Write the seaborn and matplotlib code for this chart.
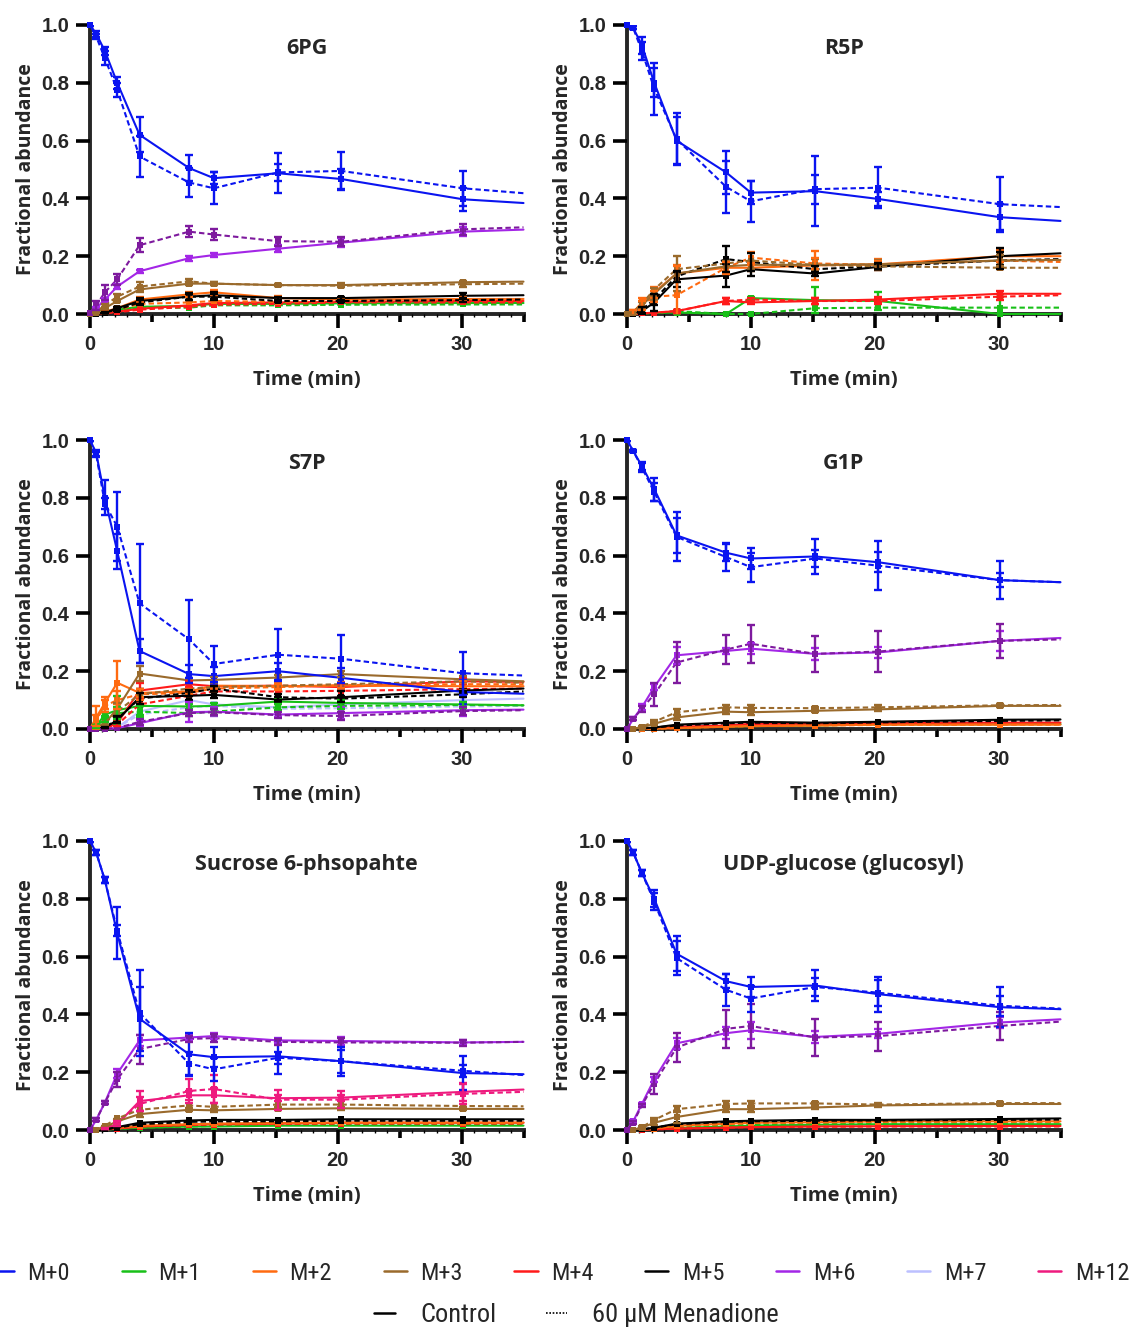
import numpy as np
import pandas as pd
import matplotlib
matplotlib.use("Agg")
import matplotlib.pyplot as plt
import seaborn as sns
from matplotlib.lines import Line2D
from matplotlib import font_manager as fm

# ---------------- data ----------------
TIME = [0, 0.5, 1.2, 2.2, 4, 8, 10, 15.2, 20.3, 30.1, 35]
N_ERR = 10  # error bars on the first 10 time points

ISOTOPOLOGUES = ["M+0", "M+1", "M+2", "M+3", "M+4", "M+5", "M+6", "M+7", "M+12"]
CONDITIONS = ["Control", "60 µM Menadione"]

PANEL_TITLES = ["6PG", "R5P", "S7P", "G1P", "Sucrose 6-phsopahte", "UDP-glucose (glucosyl)"]

# 6PG
PG6_CTRL = {
    "M+0": [1.0, 0.97, 0.91, 0.80, 0.62, 0.505, 0.47, 0.487, 0.467, 0.397, 0.384],
    "M+1": [0, 0.002, 0.008, 0.015, 0.025, 0.028, 0.035, 0.035, 0.037, 0.038, 0.038],
    "M+2": [0, 0, 0.008, 0.02, 0.05, 0.068, 0.075, 0.055, 0.05, 0.052, 0.052],
    "M+3": [0, 0.005, 0.02, 0.045, 0.085, 0.105, 0.105, 0.10, 0.10, 0.11, 0.112],
    "M+4": [0, 0, 0.003, 0.008, 0.018, 0.03, 0.038, 0.04, 0.042, 0.045, 0.045],
    "M+5": [0, 0, 0.005, 0.02, 0.045, 0.06, 0.065, 0.055, 0.055, 0.063, 0.065],
    "M+6": [0.005, 0.02, 0.05, 0.095, 0.148, 0.193, 0.204, 0.226, 0.247, 0.285, 0.292],
}
PG6_MEN = {
    "M+0": [1.0, 0.96, 0.885, 0.775, 0.545, 0.455, 0.435, 0.49, 0.495, 0.435, 0.418],
    "M+1": [0, 0.002, 0.006, 0.012, 0.02, 0.022, 0.03, 0.03, 0.032, 0.033, 0.033],
    "M+2": [0, 0, 0.005, 0.015, 0.035, 0.04, 0.045, 0.042, 0.045, 0.048, 0.048],
    "M+3": [0, 0.008, 0.03, 0.06, 0.095, 0.113, 0.105, 0.10, 0.098, 0.103, 0.105],
    "M+4": [0, 0, 0.003, 0.006, 0.015, 0.025, 0.032, 0.035, 0.04, 0.04, 0.04],
    "M+5": [0, 0, 0.005, 0.015, 0.04, 0.06, 0.06, 0.045, 0.045, 0.048, 0.05],
    "M+6": [0.005, 0.03, 0.075, 0.12, 0.238, 0.285, 0.275, 0.252, 0.25, 0.293, 0.30],
}
PG6_CTRL_SD = {
    "M+0": [0.005, 0.01, 0.015, 0.02, 0.06, 0.045, 0.02, 0.07, 0.035, 0.04],
    "M+6": [0, 0.005, 0.005, 0.01, 0.005, 0.008, 0.007, 0.012, 0.015, 0.015],
    "M+3": [0, 0, 0.003, 0.005, 0.01, 0.006, 0.005, 0.004, 0.006, 0.005],
    "M+5": [0, 0, 0.003, 0.005, 0.01, 0.012, 0.012, 0.005, 0.005, 0.01],
    "M+2": [0, 0, 0.003, 0.005, 0.01, 0.008, 0.008, 0.008, 0.006, 0.008],
}
PG6_MEN_SD = {
    "M+0": [0.005, 0.01, 0.025, 0.025, 0.07, 0.05, 0.055, 0.03, 0.065, 0.06],
    "M+6": [0, 0.015, 0.025, 0.02, 0.025, 0.02, 0.02, 0.015, 0.015, 0.02],
    "M+3": [0, 0.003, 0.005, 0.01, 0.015, 0.008, 0.005, 0.004, 0.006, 0.008],
    "M+5": [0, 0, 0.003, 0.005, 0.01, 0.01, 0.01, 0.005, 0.005, 0.008],
}

# R5P
R5P_CTRL = {
    "M+0": [1.0, 0.99, 0.93, 0.80, 0.60, 0.49, 0.42, 0.425, 0.398, 0.335, 0.322],
    "M+1": [0, 0, 0.002, 0.004, 0.005, 0.0, 0.055, 0.048, 0.045, 0.0, 0.0],
    "M+2": [0, 0.005, 0.04, 0.075, 0.14, 0.16, 0.16, 0.168, 0.172, 0.2, 0.2],
    "M+3": [0, 0.005, 0.03, 0.07, 0.14, 0.165, 0.17, 0.17, 0.172, 0.185, 0.187],
    "M+4": [0, 0, 0.002, 0.005, 0.01, 0.045, 0.04, 0.045, 0.05, 0.07, 0.07],
    "M+5": [0, 0, 0.01, 0.04, 0.12, 0.133, 0.155, 0.14, 0.163, 0.2, 0.21],
}
R5P_MEN = {
    "M+0": [1.0, 0.99, 0.91, 0.78, 0.605, 0.44, 0.39, 0.432, 0.437, 0.38, 0.37],
    "M+1": [0, 0, 0.002, 0.003, 0.01, 0.0, 0.0, 0.02, 0.022, 0.022, 0.022],
    "M+2": [0, 0.003, 0.03, 0.06, 0.065, 0.16, 0.195, 0.175, 0.17, 0.185, 0.18],
    "M+3": [0, 0.008, 0.035, 0.085, 0.155, 0.175, 0.185, 0.17, 0.165, 0.16, 0.16],
    "M+4": [0, 0, 0.002, 0.004, 0.01, 0.045, 0.05, 0.045, 0.045, 0.06, 0.065],
    "M+5": [0, 0, 0.015, 0.05, 0.13, 0.19, 0.18, 0.155, 0.165, 0.185, 0.19],
}
R5P_CTRL_SD = {
    "M+0": [0.005, 0.005, 0.03, 0.05, 0.08, 0.075, 0.04, 0.12, 0.025, 0.045],
    "M+1": [0, 0, 0, 0, 0.01, 0, 0.005, 0.045, 0.03, 0.06],
    "M+2": [0, 0.01, 0.015, 0.02, 0.03, 0.015, 0.01, 0.05, 0.02, 0.02],
    "M+3": [0, 0.005, 0.01, 0.02, 0.06, 0.02, 0.015, 0.02, 0.015, 0.02],
    "M+4": [0, 0, 0, 0, 0.005, 0.01, 0.005, 0.01, 0.01, 0.01],
    "M+5": [0, 0, 0.01, 0.03, 0.025, 0.04, 0.025, 0.01, 0.01, 0.03],
}
R5P_MEN_SD = {
    "M+0": [0.005, 0.005, 0.03, 0.09, 0.09, 0.09, 0.07, 0.05, 0.07, 0.095],
    "M+2": [0, 0.01, 0.015, 0.02, 0.1, 0.02, 0.02, 0.02, 0.015, 0.03],
    "M+4": [0, 0, 0, 0, 0.005, 0.01, 0.005, 0.01, 0.01, 0.01],
    "M+5": [0, 0, 0.01, 0.02, 0.02, 0.045, 0.03, 0.01, 0.01, 0.03],
}

# S7P
S7P_CTRL = {
    "M+0": [1.0, 0.955, 0.80, 0.615, 0.27, 0.19, 0.183, 0.20, 0.177, 0.128, 0.122],
    "M+1": [0, 0.01, 0.05, 0.065, 0.08, 0.078, 0.08, 0.095, 0.09, 0.085, 0.082],
    "M+2": [0, 0.04, 0.09, 0.16, 0.125, 0.13, 0.15, 0.148, 0.15, 0.148, 0.148],
    "M+3": [0, 0.005, 0.02, 0.07, 0.192, 0.168, 0.17, 0.178, 0.19, 0.172, 0.165],
    "M+4": [0, 0, 0.005, 0.02, 0.133, 0.155, 0.148, 0.15, 0.145, 0.165, 0.163],
    "M+5": [0, 0, 0.005, 0.03, 0.11, 0.115, 0.118, 0.102, 0.11, 0.133, 0.14],
    "M+6": [0, 0, 0, 0.003, 0.02, 0.058, 0.06, 0.05, 0.055, 0.065, 0.067],
    "M+7": [0, 0, 0, 0.005, 0.06, 0.10, 0.085, 0.075, 0.085, 0.10, 0.105],
}
S7P_MEN = {
    "M+0": [1.0, 0.95, 0.78, 0.70, 0.435, 0.31, 0.225, 0.257, 0.243, 0.193, 0.185],
    "M+1": [0, 0.01, 0.035, 0.055, 0.06, 0.055, 0.06, 0.075, 0.08, 0.083, 0.082],
    "M+2": [0, 0.03, 0.08, 0.10, 0.12, 0.125, 0.14, 0.145, 0.152, 0.155, 0.155],
    "M+3": [0, 0.005, 0.02, 0.06, 0.12, 0.14, 0.145, 0.15, 0.155, 0.165, 0.16],
    "M+4": [0, 0, 0.005, 0.015, 0.085, 0.115, 0.13, 0.13, 0.132, 0.138, 0.14],
    "M+5": [0, 0, 0.005, 0.035, 0.105, 0.125, 0.14, 0.11, 0.105, 0.12, 0.13],
    "M+6": [0, 0, 0, 0.003, 0.025, 0.055, 0.058, 0.048, 0.045, 0.062, 0.065],
    "M+7": [0, 0, 0, 0.005, 0.05, 0.075, 0.08, 0.07, 0.072, 0.078, 0.08],
}
S7P_CTRL_SD = {
    "M+0": [0.005, 0.01, 0.06, 0.06, 0.04, 0.03, 0.03, 0.03, 0.035, 0.04],
    "M+1": [0, 0.005, 0.01, 0.05, 0.03, 0.01, 0.01, 0.01, 0.01, 0.01],
    "M+2": [0, 0.04, 0.02, 0.075, 0.015, 0.01, 0.01, 0.01, 0.01, 0.01],
    "M+3": [0, 0, 0.005, 0.02, 0.025, 0.01, 0.01, 0.01, 0.01, 0.01],
    "M+4": [0, 0, 0.003, 0.01, 0.025, 0.01, 0.01, 0.01, 0.01, 0.01],
    "M+5": [0, 0, 0.003, 0.01, 0.03, 0.015, 0.01, 0.01, 0.02, 0.01],
    "M+6": [0, 0, 0, 0, 0.01, 0.035, 0.015, 0.01, 0.02, 0.02],
}
S7P_MEN_SD = {
    "M+0": [0.005, 0.01, 0.02, 0.12, 0.205, 0.135, 0.063, 0.09, 0.083, 0.075],
    "M+1": [0, 0.005, 0.01, 0.02, 0.02, 0.01, 0.01, 0.01, 0.01, 0.01],
    "M+2": [0, 0.02, 0.02, 0.03, 0.02, 0.01, 0.01, 0.01, 0.01, 0.01],
    "M+5": [0, 0, 0.003, 0.01, 0.02, 0.01, 0.01, 0.01, 0.01, 0.01],
    "M+6": [0, 0, 0, 0, 0.01, 0.01, 0.01, 0.01, 0.015, 0.015],
}

# G1P
G1P_CTRL = {
    "M+0": [1.0, 0.962, 0.91, 0.83, 0.67, 0.61, 0.59, 0.597, 0.577, 0.515, 0.508],
    "M+1": [0, 0, 0, 0.002, 0.005, 0.008, 0.01, 0.012, 0.016, 0.016, 0.017],
    "M+2": [0, 0, 0, 0.001, 0.003, 0.008, 0.01, 0.012, 0.015, 0.015, 0.015],
    "M+3": [0, 0, 0.005, 0.018, 0.04, 0.06, 0.058, 0.063, 0.068, 0.08, 0.08],
    "M+4": [0, 0, 0, 0.002, 0.008, 0.012, 0.018, 0.018, 0.02, 0.022, 0.022],
    "M+5": [0, 0, 0.002, 0.005, 0.015, 0.022, 0.025, 0.022, 0.025, 0.032, 0.033],
    "M+6": [0, 0.035, 0.075, 0.145, 0.255, 0.27, 0.278, 0.26, 0.265, 0.305, 0.315],
}
G1P_MEN = {
    "M+0": [1.0, 0.962, 0.905, 0.82, 0.665, 0.595, 0.56, 0.59, 0.565, 0.515, 0.508],
    "M+1": [0, 0, 0, 0.002, 0.005, 0.01, 0.012, 0.014, 0.018, 0.02, 0.02],
    "M+2": [0, 0, 0, 0.001, 0.003, 0.008, 0.01, 0.012, 0.014, 0.015, 0.015],
    "M+3": [0, 0, 0.008, 0.025, 0.058, 0.075, 0.073, 0.072, 0.075, 0.082, 0.083],
    "M+4": [0, 0, 0, 0.002, 0.007, 0.012, 0.016, 0.017, 0.02, 0.021, 0.021],
    "M+5": [0, 0, 0.002, 0.005, 0.012, 0.02, 0.022, 0.02, 0.023, 0.028, 0.03],
    "M+6": [0, 0.035, 0.07, 0.12, 0.23, 0.275, 0.295, 0.26, 0.268, 0.305, 0.31],
}
G1P_CTRL_SD = {
    "M+0": [0.003, 0.005, 0.015, 0.04, 0.06, 0.03, 0.035, 0.06, 0.035, 0.065],
    "M+6": [0, 0.005, 0.01, 0.01, 0.03, 0.01, 0.02, 0.02, 0.02, 0.035],
    "M+3": [0, 0, 0.003, 0.005, 0.01, 0.008, 0.01, 0.005, 0.005, 0.005],
}
G1P_MEN_SD = {
    "M+0": [0.003, 0.005, 0.015, 0.03, 0.085, 0.05, 0.05, 0.03, 0.085, 0.025],
    "M+6": [0, 0.005, 0.01, 0.04, 0.07, 0.05, 0.065, 0.062, 0.07, 0.058],
    "M+3": [0, 0, 0.003, 0.005, 0.01, 0.008, 0.01, 0.005, 0.008, 0.005],
}

# Sucrose 6-phosphate
SUC_CTRL = {
    "M+0": [1.0, 0.96, 0.865, 0.68, 0.385, 0.262, 0.252, 0.255, 0.238, 0.197, 0.193],
    "M+1": [0, 0, 0.002, 0.004, 0.008, 0.012, 0.012, 0.015, 0.015, 0.015, 0.015],
    "M+2": [0, 0, 0.003, 0.007, 0.015, 0.02, 0.022, 0.025, 0.026, 0.026, 0.026],
    "M+3": [0, 0, 0.01, 0.03, 0.055, 0.07, 0.068, 0.073, 0.075, 0.073, 0.073],
    "M+4": [0, 0, 0.002, 0.005, 0.012, 0.018, 0.02, 0.022, 0.025, 0.025, 0.025],
    "M+5": [0, 0, 0.002, 0.01, 0.025, 0.033, 0.035, 0.035, 0.037, 0.037, 0.037],
    "M+6": [0, 0.035, 0.095, 0.195, 0.31, 0.32, 0.325, 0.31, 0.308, 0.303, 0.305],
    "M+12": [0, 0, 0.005, 0.02, 0.10, 0.12, 0.12, 0.11, 0.112, 0.132, 0.14],
}
SUC_MEN = {
    "M+0": [1.0, 0.96, 0.865, 0.69, 0.405, 0.23, 0.21, 0.25, 0.238, 0.205, 0.19],
    "M+1": [0, 0, 0.002, 0.004, 0.008, 0.012, 0.014, 0.017, 0.018, 0.02, 0.02],
    "M+2": [0, 0, 0.003, 0.007, 0.015, 0.02, 0.022, 0.023, 0.024, 0.024, 0.024],
    "M+3": [0, 0, 0.015, 0.04, 0.07, 0.085, 0.08, 0.088, 0.088, 0.083, 0.082],
    "M+4": [0, 0, 0.002, 0.005, 0.012, 0.017, 0.019, 0.021, 0.022, 0.022, 0.022],
    "M+5": [0, 0, 0.002, 0.008, 0.02, 0.028, 0.03, 0.03, 0.032, 0.032, 0.032],
    "M+6": [0, 0.035, 0.095, 0.175, 0.28, 0.315, 0.318, 0.305, 0.303, 0.302, 0.305],
    "M+12": [0, 0, 0.005, 0.025, 0.09, 0.135, 0.142, 0.105, 0.105, 0.125, 0.132],
}
SUC_CTRL_SD = {
    "M+0": [0.003, 0.01, 0.01, 0.09, 0.11, 0.075, 0.035, 0.06, 0.04, 0.06],
    "M+6": [0, 0.005, 0.005, 0.015, 0.02, 0.01, 0.01, 0.01, 0.015, 0.01],
    "M+12": [0, 0, 0.002, 0.005, 0.035, 0.015, 0.025, 0.01, 0.01, 0.03],
    "M+3": [0, 0, 0.003, 0.008, 0.01, 0.005, 0.005, 0.005, 0.005, 0.005],
}
SUC_MEN_SD = {
    "M+0": [0.003, 0.01, 0.01, 0.02, 0.15, 0.04, 0.04, 0.02, 0.05, 0.02],
    "M+6": [0, 0.005, 0.005, 0.025, 0.05, 0.01, 0.015, 0.01, 0.015, 0.01],
    "M+12": [0, 0, 0.002, 0.005, 0.025, 0.04, 0.05, 0.035, 0.03, 0.035],
}

# UDP-glucose (glucosyl)
UDP_CTRL = {
    "M+0": [1.0, 0.96, 0.89, 0.80, 0.61, 0.515, 0.495, 0.50, 0.47, 0.425, 0.418],
    "M+1": [0, 0, 0.001, 0.003, 0.007, 0.012, 0.015, 0.018, 0.02, 0.02, 0.02],
    "M+2": [0, 0, 0.002, 0.005, 0.015, 0.022, 0.025, 0.027, 0.03, 0.03, 0.03],
    "M+3": [0, 0, 0.008, 0.025, 0.045, 0.072, 0.072, 0.078, 0.085, 0.09, 0.09],
    "M+4": [0, 0, 0.001, 0.002, 0.005, 0.008, 0.01, 0.012, 0.013, 0.014, 0.014],
    "M+5": [0, 0, 0.002, 0.008, 0.022, 0.03, 0.032, 0.035, 0.035, 0.038, 0.04],
    "M+6": [0, 0.03, 0.09, 0.175, 0.30, 0.335, 0.345, 0.322, 0.333, 0.372, 0.383],
}
UDP_MEN = {
    "M+0": [1.0, 0.96, 0.89, 0.79, 0.595, 0.485, 0.455, 0.495, 0.475, 0.43, 0.42],
    "M+1": [0, 0, 0.002, 0.004, 0.01, 0.015, 0.018, 0.022, 0.025, 0.025, 0.026],
    "M+2": [0, 0, 0.002, 0.005, 0.014, 0.02, 0.024, 0.026, 0.028, 0.028, 0.028],
    "M+3": [0, 0, 0.01, 0.035, 0.072, 0.09, 0.092, 0.092, 0.088, 0.093, 0.093],
    "M+4": [0, 0, 0.001, 0.002, 0.005, 0.008, 0.01, 0.011, 0.012, 0.012, 0.012],
    "M+5": [0, 0, 0.002, 0.008, 0.02, 0.028, 0.03, 0.032, 0.033, 0.035, 0.036],
    "M+6": [0, 0.025, 0.085, 0.16, 0.285, 0.35, 0.36, 0.32, 0.325, 0.36, 0.375],
}
UDP_CTRL_SD = {
    "M+0": [0.003, 0.01, 0.01, 0.03, 0.06, 0.025, 0.035, 0.055, 0.06, 0.07],
    "M+6": [0, 0.005, 0.005, 0.01, 0.02, 0.02, 0.03, 0.02, 0.015, 0.02],
    "M+3": [0, 0, 0.003, 0.008, 0.02, 0.01, 0.008, 0.005, 0.005, 0.005],
}
UDP_MEN_SD = {
    "M+0": [0.003, 0.01, 0.01, 0.03, 0.06, 0.055, 0.045, 0.03, 0.045, 0.035],
    "M+6": [0, 0.005, 0.005, 0.035, 0.05, 0.065, 0.075, 0.063, 0.05, 0.05],
    "M+3": [0, 0, 0.003, 0.008, 0.01, 0.01, 0.01, 0.005, 0.005, 0.005],
}

PANELS = [
    (PG6_CTRL, PG6_MEN, PG6_CTRL_SD, PG6_MEN_SD),
    (R5P_CTRL, R5P_MEN, R5P_CTRL_SD, R5P_MEN_SD),
    (S7P_CTRL, S7P_MEN, S7P_CTRL_SD, S7P_MEN_SD),
    (G1P_CTRL, G1P_MEN, G1P_CTRL_SD, G1P_MEN_SD),
    (SUC_CTRL, SUC_MEN, SUC_CTRL_SD, SUC_MEN_SD),
    (UDP_CTRL, UDP_MEN, UDP_CTRL_SD, UDP_MEN_SD),
]

# ---------------- style ----------------
ISO_COLORS = {
    "M+0": "#0A14F0", "M+1": "#18C018", "M+2": "#FF6A10", "M+3": "#9A6A2C",
    "M+4": "#FF1A1A", "M+5": "#000000", "M+6": "#A326E6", "M+7": "#BCC0FF",
    "M+12": "#EE1A7E",
}
MEN_OVERRIDE = {"M+6": "#7E1A9E"}
DRAW_ORDER = ["M+12", "M+7", "M+1", "M+4", "M+2", "M+5", "M+3", "M+6", "M+0"]

sns.set_theme(style="ticks")
available = {f.name for f in fm.fontManager.ttflist}
def pick(*names):
    for n in names:
        if n in available:
            return n
    return "DejaVu Sans"
TICK_FONT = pick("Liberation Sans", "Arial")
LABEL_FONT = pick("Open Sans", "Lato")
LEG_FONT = pick("Liberation Sans Narrow", "Roboto Condensed", "Liberation Sans")
plt.rcParams["font.family"] = [TICK_FONT, "DejaVu Sans"]

W, H = 1138, 1327
fig = plt.figure(figsize=(W / 100, H / 100), dpi=100)

col_left_px = [90, 627]
row_top_px = [25, 440, 841]
ax_w_px, ax_h_px = 433.5, 289

def color_of(iso, cond):
    if cond == CONDITIONS[1] and iso in MEN_OVERRIDE:
        return MEN_OVERRIDE[iso]
    return ISO_COLORS[iso]

for idx, (ctrl, men, ctrl_sd, men_sd) in enumerate(PANELS):
    r, c = divmod(idx, 2)
    left = col_left_px[c] / W
    bottom = 1 - (row_top_px[r] + ax_h_px) / H
    ax = fig.add_axes([left, bottom, ax_w_px / W, ax_h_px / H])

    rows = []
    for cond, d in ((CONDITIONS[0], ctrl), (CONDITIONS[1], men)):
        for iso, vals in d.items():
            for t, v in zip(TIME, vals):
                rows.append({"time": t, "value": v, "iso": iso, "cond": cond,
                             "key": f"{iso}|{cond}"})
    df = pd.DataFrame(rows)
    keys = []
    for iso in DRAW_ORDER:
        for cond in CONDITIONS:
            k = f"{iso}|{cond}"
            if k in set(df["key"]):
                keys.append(k)
    pal = {k: color_of(*k.split("|")) for k in keys}

    sns.lineplot(data=df, x="time", y="value", hue="key", hue_order=keys,
                 style="cond", style_order=CONDITIONS,
                 dashes={CONDITIONS[0]: "", CONDITIONS[1]: (2.6, 1.5)},
                 markers={CONDITIONS[0]: "s", CONDITIONS[1]: "s"},
                 palette=pal, linewidth=1.5, markersize=4.5, markeredgewidth=0,
                 legend=False, errorbar=None, ax=ax)
    for ln in ax.lines:
        ln.set_markevery(slice(0, N_ERR))
        ln.set_clip_on(False)

    # error bars
    for cond, vals_d, sd_d in ((CONDITIONS[0], ctrl, ctrl_sd), (CONDITIONS[1], men, men_sd)):
        for iso in DRAW_ORDER:
            if iso not in sd_d:
                continue
            sd = np.array(sd_d[iso], dtype=float)
            sd[sd == 0] = np.nan
            ax.errorbar(TIME[:N_ERR], vals_d[iso][:N_ERR], yerr=sd, fmt="none",
                        ecolor=color_of(iso, cond), elinewidth=1.7,
                        capsize=3.2, capthick=1.7)

    ax.set_xlim(0, 35)
    ax.set_ylim(0, 1.0)
    sns.despine(ax=ax)
    for s in ("left", "bottom"):
        ax.spines[s].set_linewidth(2.8)
        ax.spines[s].set_zorder(0.5)
    ax.set_xticks([0, 10, 20, 30])
    ax.set_xticks(np.arange(0, 36, 1), minor=True)
    ax.set_yticks([0, 0.2, 0.4, 0.6, 0.8, 1.0])
    ax.set_yticklabels(["0.0", "0.2", "0.4", "0.6", "0.8", "1.0"])
    ax.tick_params(axis="both", which="major", width=2.6, length=10, direction="out",
                   labelsize=14.5, color="black", pad=5)
    ax.tick_params(axis="x", which="minor", width=1.0, length=2.5, color="black")
    ax.tick_params(axis="y", which="minor", length=0)
    for lab in ax.get_xticklabels() + ax.get_yticklabels():
        lab.set_fontweight("bold")
        lab.set_family(TICK_FONT)
    sec = ax.secondary_xaxis("bottom")
    sec.set_xticks([5, 15, 25, 35])
    sec.tick_params(axis="x", width=2.6, length=6, labelbottom=False, color="black")
    sec.spines["bottom"].set_visible(False)

    ax.set_xlabel("Time (min)", fontsize=14.5, fontweight="bold", family=LABEL_FONT,
                  labelpad=12)
    ax.set_ylabel("Fractional abundance", fontsize=14, fontweight="bold",
                  family=LABEL_FONT, labelpad=4)
    ax.text(0.5, 0.92, PANEL_TITLES[idx], transform=ax.transAxes, ha="center",
            va="center", fontsize=15.5, fontweight="bold", family=LABEL_FONT)

# ---------------- legends ----------------
iso_handles = [Line2D([0], [0], color=ISO_COLORS[i], lw=1.8) for i in ISOTOPOLOGUES]
fig.legend(iso_handles, ISOTOPOLOGUES, loc="center",
           bbox_to_anchor=(0.492, 1 - 1273 / H), ncol=9, frameon=False,
           handlelength=0.95, handletextpad=0.55, columnspacing=2.14,
           prop={"family": LEG_FONT, "size": 17.5})
cond_handles = [Line2D([0], [0], color="black", lw=1.8),
                Line2D([0], [0], color="black", lw=1.2, ls=(0, (1, 1)))]
fig.legend(cond_handles, ["Control", "60 µM Menadione"], loc="center",
           bbox_to_anchor=(0.5066, 1 - 1315 / H), ncol=2, frameon=False,
           handlelength=0.8, handletextpad=0.95, columnspacing=1.9,
           prop={"family": LEG_FONT, "size": 19})

fig.savefig("out.png", dpi=100)
